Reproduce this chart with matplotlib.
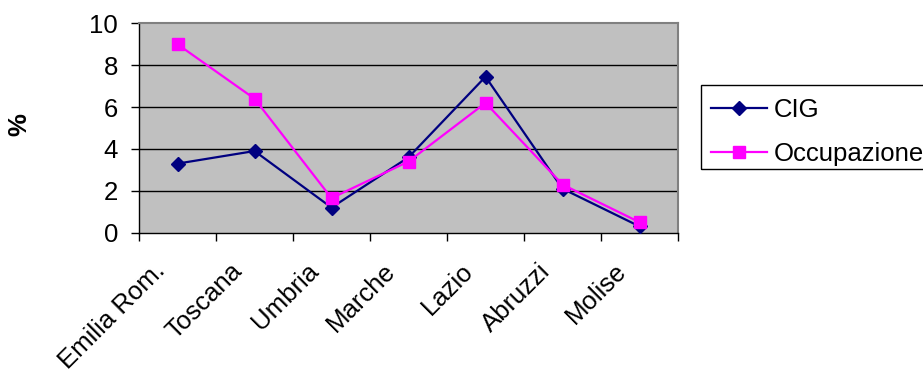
import numpy as np
import matplotlib
matplotlib.use('Agg')
from matplotlib import pyplot as plt
from matplotlib.patches import Rectangle
from matplotlib.transforms import ScaledTranslation

plt.rcParams['font.family'] = ['Liberation Sans', 'DejaVu Sans']

regions = ['Emilia Rom.', 'Toscana', 'Umbria', 'Marche', 'Lazio', 'Abruzzi', 'Molise']
cig = [3.3, 3.9, 1.2, 3.6, 7.45, 2.1, 0.3]
occupazione = [9.0, 6.4, 1.65, 3.4, 6.2, 2.3, 0.5]
yticks = [0, 2, 4, 6, 8, 10]

FS = 18.5
W, H = 923, 374

fig = plt.figure(figsize=(W / 100, H / 100), dpi=100)
ax = fig.add_axes([0.1506, 0.3778, 0.5840, 0.5599])
ax.set_facecolor('#C0C0C0')

x = np.arange(len(regions))
ax.plot(x, cig, color='#000080', lw=1.6, marker='D', ms=7,
        mfc='#000080', mec='#000080', label='CIG', zorder=3)
ax.plot(x, occupazione, color='#FF00FF', lw=1.6, marker='s', ms=8,
        mfc='#FF00FF', mec='#FF00FF', label='Occupazione', zorder=3)

ax.set_xlim(-0.5, len(regions) - 0.5)
ax.set_ylim(0, 10)
ax.set_yticks(yticks)
ax.set_yticklabels([str(v) for v in yticks], fontsize=FS)
for v in yticks[1:-1]:
    ax.axhline(v, color='black', lw=1, zorder=1)

# ticks sit on category boundaries; names are drawn under the category centres
ax.set_xticks(np.arange(len(regions) + 1) - 0.5)
ax.set_xticklabels([])
ax.tick_params(axis='x', length=6, width=1, color='black')
ax.tick_params(axis='y', length=6, width=1, color='black', pad=9)

offset = ScaledTranslation(-0.25, -0.26, fig.dpi_scale_trans)
for xi, name in zip(x, regions):
    ax.text(xi, 0, name, transform=ax.get_xaxis_transform() + offset,
            rotation=45, ha='right', va='top', rotation_mode='anchor',
            fontsize=FS, clip_on=False)

for side in ['top', 'right']:
    ax.spines[side].set_color('#808080')
    ax.spines[side].set_linewidth(1.5)
for side in ['left', 'bottom']:
    ax.spines[side].set_color('black')
    ax.spines[side].set_linewidth(1)

fig.text(0.0206, 0.666, '%', rotation=90, fontsize=FS, fontweight='bold',
         ha='center', va='center')

# legend box runs off the right edge of the figure
fig.patches.append(Rectangle((701 / W, 1 - 169 / H), 240 / W, 84 / H,
                             transform=fig.transFigure, fill=False,
                             edgecolor='black', lw=1))
fig.legend(loc='upper left', bbox_to_anchor=(701 / W, 1 - 88 / H),
           fontsize=FS, frameon=False, handlelength=2.15,
           handletextpad=0.27, borderpad=0.4, labelspacing=0.75,
           borderaxespad=0)

fig.savefig('out.png', dpi=100)
